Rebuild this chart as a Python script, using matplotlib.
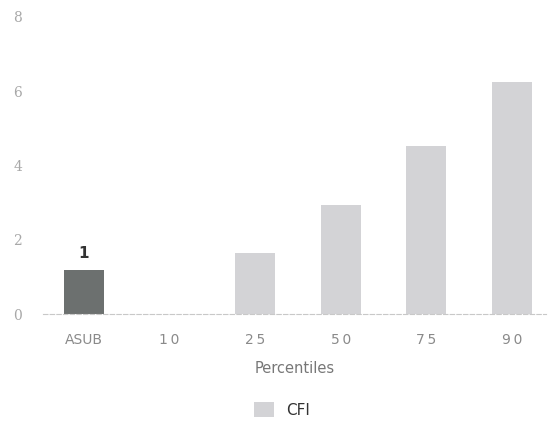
import matplotlib
matplotlib.use("Agg")
import matplotlib.pyplot as plt
from matplotlib.patches import Patch

categories = ["ASUB", "10", "25", "50", "75", "90"]
values = [1.18, 0, 1.64, 2.93, 4.52, 6.24]
bar_colors = ["#6c706f", "#d3d3d6", "#d3d3d6", "#d3d3d6", "#d3d3d6", "#d3d3d6"]
yticks = [0, 2, 4, 6, 8]
asub_label = "1"

W, H = 548, 423
fig = plt.figure(figsize=(W / 100, H / 100), dpi=100)
left, right, bottom, top = 43, 546, 314, 17
ax = fig.add_axes([left / W, (H - bottom) / H, (right - left) / W, (bottom - top) / H])

x = list(range(len(categories)))
ax.bar(x, values, width=0.47, color=bar_colors, zorder=2)
ax.set_xlim(-0.48, 5.4)
ax.set_ylim(0, 8)

for s in ["top", "right", "left"]:
    ax.spines[s].set_visible(False)
ax.spines["bottom"].set_color("#c8c8c8")
ax.spines["bottom"].set_linestyle((0, (4, 2)))
ax.spines["bottom"].set_linewidth(0.8)

ax.set_yticks(yticks)
ax.set_yticklabels([str(t) for t in yticks], fontsize=10, color="#a8a8a8", family="DejaVu Serif")
ax.tick_params(axis="y", length=0, pad=15)
ax.set_xticks(x)
ax.set_xticklabels([c if c == "ASUB" else "\u2009".join(c) for c in categories],
                   fontsize=10, color="#8a8a8a")
ax.tick_params(axis="x", length=0, pad=14)
ax.set_xlabel("Percentiles", fontsize=10.5, color="#777777", labelpad=10)

ax.text(0, values[0] + 0.25, asub_label, ha="center", va="bottom", fontsize=11,
        color="#333333", fontweight="semibold")

handle = Patch(facecolor="#d3d3d6", edgecolor="none")
fig.legend([handle], ["CFI"], loc="center", bbox_to_anchor=(282 / W, 1 - 410 / H),
           frameon=False, fontsize=11, handlelength=1.3, handleheight=1.1,
           labelcolor="#333333")

fig.savefig("out.png", dpi=100)
